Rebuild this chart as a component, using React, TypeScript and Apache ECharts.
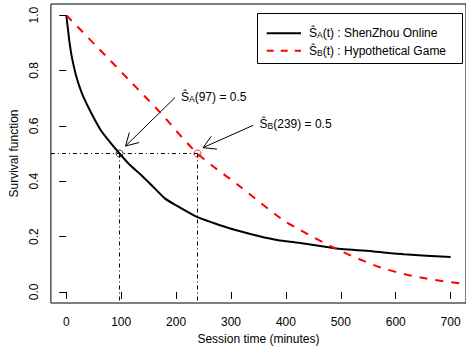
import React, { useEffect, useRef } from 'react';
import * as echarts from 'echarts';

// ---- data ----
const TIMES_A = [0, 3, 6, 10, 18, 28, 42, 62, 80, 97, 115, 135, 158, 180, 200, 237, 280, 315, 350, 386, 423, 489, 560, 615, 700];
const SURV_A = [1.0, 0.95, 0.9, 0.85, 0.78, 0.72, 0.66, 0.587, 0.54, 0.5, 0.46, 0.425, 0.38, 0.337, 0.313, 0.272, 0.241, 0.22, 0.202, 0.187, 0.178, 0.158, 0.146, 0.136, 0.126];
const TIMES_B = [0, 60, 117, 171, 239, 315, 393, 423, 489, 573, 645, 728];
const SURV_B = [1.0, 0.877, 0.76, 0.648, 0.5, 0.383, 0.262, 0.227, 0.158, 0.088, 0.052, 0.028];
const X_TICKS = [0, 100, 200, 300, 400, 500, 600, 700];
const Y_TICKS = [0, 0.2, 0.4, 0.6, 0.8, 1.0];
const MEDIAN_LEVEL = 0.5;
const MEDIAN_A = 97;
const MEDIAN_B = 239;
const X_RANGE = [-28, 728];
const Y_RANGE = [-0.04, 1.04];
// annotation arrows: [x0, y0, x1, y1] in data units
const ARROWS = [
  [198, 0.702, 108, 0.527],
  [340.6, 0.602, 249, 0.521],
];
const ANNOT_POS = [
  [209, 0.703],
  [352, 0.605],
];
const ANNOT_TEXT = ['Ŝ{sub|A}(97) = 0.5', 'Ŝ{sub|B}(239) = 0.5'];
const LEGEND_TEXT = ['Ŝ{sub|A}(t) : ShenZhou Online', 'Ŝ{sub|B}(t) : Hypothetical Game'];

const FONT = '"Liberation Sans", Arial, Helvetica, sans-serif';
const RICH = {
  sub: { fontSize: 8.5, fontFamily: FONT, fill: '#000', verticalAlign: 'bottom', lineHeight: 11 },
};

export default function App() {
  const ref = useRef<HTMLDivElement>(null);
  useEffect(() => {
    const chart = echarts.init(ref.current!, null, { renderer: 'svg' });
    const lineA = TIMES_A.map((t, i) => [t, SURV_A[i]]);
    const lineB = TIMES_B.map((t, i) => [t, SURV_B[i]]);
    const refStyle = { color: '#000', width: 1, type: [4, 3, 1, 3] };
    const option: any = {
      animation: false,
      grid: {
        left: 49,
        top: 4,
        right: -4,
        bottom: 49,
        show: true,
        borderColor: '#000',
        borderWidth: 1,
        backgroundColor: 'transparent',
      },
      xAxis: {
        type: 'value',
        min: X_RANGE[0],
        max: X_RANGE[1],
        name: 'Session time (minutes)',
        nameLocation: 'middle',
        nameGap: 30,
        nameTextStyle: { fontFamily: FONT, fontSize: 12, color: '#000' },
        axisLine: { show: false },
        splitLine: { show: false },
        axisTick: { show: true, length: 7, customValues: X_TICKS, lineStyle: { color: '#000' } },
        axisLabel: {
          customValues: X_TICKS,
          fontFamily: FONT,
          fontSize: 12,
          color: '#000',
          margin: 13,
        },
      },
      yAxis: {
        type: 'value',
        min: Y_RANGE[0],
        max: Y_RANGE[1],
        name: 'Survival function',
        nameLocation: 'middle',
        nameGap: 29,
        nameRotate: 90,
        nameTextStyle: { fontFamily: FONT, fontSize: 12, color: '#000' },
        axisLine: { show: false },
        splitLine: { show: false },
        axisTick: { show: true, length: 7, customValues: Y_TICKS, lineStyle: { color: '#000' } },
        axisLabel: {
          customValues: Y_TICKS,
          rotate: 90,
          fontFamily: FONT,
          fontSize: 12,
          color: '#000',
          margin: 11,
          formatter: (v: number) => v.toFixed(1),
        },
      },
      series: [
        {
          type: 'line',
          data: [[X_RANGE[0], MEDIAN_LEVEL], [MEDIAN_B, MEDIAN_LEVEL]],
          showSymbol: false,
          lineStyle: refStyle,
          silent: true,
        },
        {
          type: 'line',
          data: [[MEDIAN_A, MEDIAN_LEVEL], [MEDIAN_A, Y_RANGE[0]]],
          showSymbol: false,
          lineStyle: refStyle,
          silent: true,
        },
        {
          type: 'line',
          data: [[MEDIAN_B, MEDIAN_LEVEL], [MEDIAN_B, Y_RANGE[0]]],
          showSymbol: false,
          lineStyle: refStyle,
          silent: true,
        },
        {
          name: 'ShenZhou Online',
          type: 'line',
          data: lineA,
          showSymbol: false,
          smooth: 0.2,
          lineStyle: { color: '#000', width: 2 },
        },
        {
          name: 'Hypothetical Game',
          type: 'line',
          data: lineB,
          showSymbol: false,
          smooth: 0.3,
          lineStyle: { color: '#ff0000', width: 2, type: [8, 8] },
        },
        {
          type: 'scatter',
          data: [[MEDIAN_A, MEDIAN_LEVEL]],
          symbol: 'circle',
          symbolSize: 7,
          itemStyle: { color: 'transparent', borderColor: '#000', borderWidth: 1 },
        },
        {
          type: 'scatter',
          data: [[MEDIAN_B, MEDIAN_LEVEL]],
          symbol: 'circle',
          symbolSize: 7,
          itemStyle: { color: 'transparent', borderColor: '#ff0000', borderWidth: 1 },
        },
        {
          type: 'custom',
          data: ARROWS,
          encode: { x: [0, 2], y: [1, 3] },
          silent: true,
          renderItem: (params: any, api: any) => {
            const p0 = api.coord([api.value(0), api.value(1)]);
            const p1 = api.coord([api.value(2), api.value(3)]);
            const ang = Math.atan2(p0[1] - p1[1], p0[0] - p1[0]);
            const L = 14;
            const a = Math.PI / 6;
            const b1 = [p1[0] + L * Math.cos(ang + a), p1[1] + L * Math.sin(ang + a)];
            const b2 = [p1[0] + L * Math.cos(ang - a), p1[1] + L * Math.sin(ang - a)];
            return {
              type: 'group',
              children: [
                { type: 'line', shape: { x1: p0[0], y1: p0[1], x2: p1[0], y2: p1[1] }, style: { stroke: '#000', lineWidth: 1 } },
                { type: 'polyline', shape: { points: [b1, p1, b2] }, style: { stroke: '#000', fill: null, lineWidth: 1 } },
              ],
            };
          },
        },
        {
          type: 'custom',
          data: ANNOT_POS.map((p, i) => [p[0], p[1], i]),
          encode: { x: 0, y: 1 },
          silent: true,
          renderItem: (params: any, api: any) => {
            const p = api.coord([api.value(0), api.value(1)]);
            return {
              type: 'text',
              x: p[0],
              y: p[1],
              style: {
                text: ANNOT_TEXT[api.value(2)],
                fontFamily: FONT,
                fontSize: 12,
                fill: '#000',
                align: 'left',
                verticalAlign: 'middle',
                rich: RICH,
              },
            };
          },
        },
      ],
      graphic: [
        {
          type: 'group',
          z: 100,
          children: [
            { type: 'rect', shape: { x: 257.5, y: 13.5, width: 205, height: 50 }, style: { fill: '#fff', stroke: '#000', lineWidth: 1 } },
            { type: 'line', shape: { x1: 266.7, y1: 33.3, x2: 301, y2: 33.3 }, style: { stroke: '#000', lineWidth: 2 } },
            { type: 'line', shape: { x1: 266.7, y1: 50.7, x2: 301, y2: 50.7 }, style: { stroke: '#ff0000', lineWidth: 2, lineDash: [7, 7] } },
            {
              type: 'text',
              x: 309,
              y: 33,
              style: { text: LEGEND_TEXT[0], fontFamily: FONT, fontSize: 12, fill: '#000', align: 'left', verticalAlign: 'middle', rich: RICH },
            },
            {
              type: 'text',
              x: 309,
              y: 51,
              style: { text: LEGEND_TEXT[1], fontFamily: FONT, fontSize: 12, fill: '#000', align: 'left', verticalAlign: 'middle', rich: RICH },
            },
          ],
        },
      ],
    };
    chart.setOption(option);
    return () => chart.dispose();
  }, []);
  return <div ref={ref} style={{ position: 'fixed', left: 0, top: 0, width: 466, height: 352, background: '#fff' }} />;
}
